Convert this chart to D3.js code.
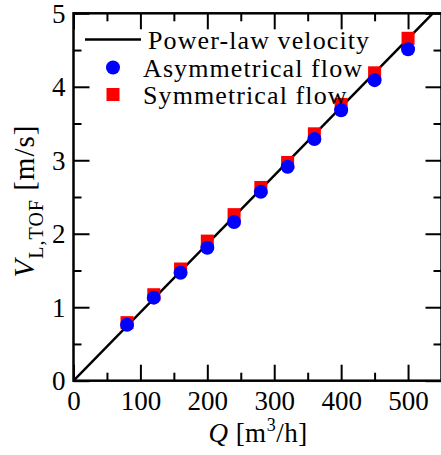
<!DOCTYPE html>
<html>
<head>
<meta charset="utf-8">
<script src="https://cdn.jsdelivr.net/npm/d3@7"></script>
<style>
  body { margin: 0; background: #fff; }
  text { font-family: "Liberation Serif", "Times New Roman", serif; fill: #000; }
</style>
</head>
<body>
<div id="chart"></div>
<script>
// data
const flowRates = [80, 120, 160, 200, 240, 280, 320, 360, 400, 450, 500];
const asymVelocity = [0.76, 1.13, 1.47, 1.81, 2.16, 2.57, 2.91, 3.29, 3.68, 4.09, 4.51];
const symVelocity = [0.79, 1.17, 1.52, 1.90, 2.26, 2.63, 2.97, 3.36, 3.76, 4.19, 4.66];
const lineQ = [0, 550];
const lineV = [0, 5.12];
const xTicks = [0, 100, 200, 300, 400, 500];
const yTicks = [0, 1, 2, 3, 4, 5];
const legendLabels = ["Power-law velocity", "Asymmetrical flow", "Symmetrical flow"];

const W = 441, H = 455;
const margin = {top: 13.3, right: -0.5, bottom: 74.3, left: 73.5};
const width = W - margin.left - margin.right,
    height = H - margin.top - margin.bottom;

const svg = d3.select("#chart")
  .append("svg")
    .attr("width", W)
    .attr("height", H);

const g = svg.append("g")
    .attr("transform", `translate(${margin.left},${margin.top})`);

const x = d3.scaleLinear().domain([0, 550]).range([0, width]);
const y = d3.scaleLinear().domain([0, 5]).range([height, 0]);

const minorX = d3.range(50, 550, 100);
const minorY = d3.range(0.5, 5, 1);

// ticks pointing inwards on all four sides
function styleAxis(sel) {
  sel.select(".domain").remove();
  sel.selectAll("line").attr("stroke", "#000").attr("stroke-width", 2);
  sel.selectAll("text")
    .style("font-family", "Liberation Serif, serif")
    .style("font-size", "27px");
}

g.append("g").attr("transform", `translate(0,${height})`)
  .call(d3.axisBottom(x).tickValues(xTicks).tickSize(-16).tickPadding(8).tickFormat(d3.format("d")))
  .call(styleAxis)
  .selectAll("text").attr("dy", "0.78em");
g.append("g").attr("transform", `translate(0,${height})`)
  .call(d3.axisBottom(x).tickValues(minorX).tickSize(-8).tickFormat(""))
  .call(styleAxis);
g.append("g")
  .call(d3.axisTop(x).tickValues(xTicks).tickSize(-16).tickFormat(""))
  .call(styleAxis);
g.append("g")
  .call(d3.axisTop(x).tickValues(minorX).tickSize(-8).tickFormat(""))
  .call(styleAxis);

g.append("g")
  .call(d3.axisLeft(y).tickValues(yTicks).tickSize(-16).tickPadding(8).tickFormat(d3.format("d")))
  .call(styleAxis)
  .selectAll("text").attr("dy", "0.34em");
g.append("g")
  .call(d3.axisLeft(y).tickValues(minorY).tickSize(-8).tickFormat(""))
  .call(styleAxis);
g.append("g").attr("transform", `translate(${width},0)`)
  .call(d3.axisRight(y).tickValues(yTicks).tickSize(-16).tickFormat(""))
  .call(styleAxis);
g.append("g").attr("transform", `translate(${width},0)`)
  .call(d3.axisRight(y).tickValues(minorY).tickSize(-8).tickFormat(""))
  .call(styleAxis);

// frame
g.append("rect")
  .attr("width", width)
  .attr("height", height)
  .attr("fill", "none")
  .attr("stroke", "#000")
  .attr("stroke-width", 2.5);

// power-law line
g.append("clipPath").attr("id", "plotclip")
  .append("rect").attr("width", width).attr("height", height);

g.append("path")
  .datum(d3.zip(lineQ, lineV))
  .attr("clip-path", "url(#plotclip)")
  .attr("fill", "none")
  .attr("stroke", "#000")
  .attr("stroke-width", 2.5)
  .attr("d", d3.line().x(d => x(d[0])).y(d => y(d[1])));

const sq = 13;
g.append("g")
  .selectAll("rect")
  .data(d3.zip(flowRates, symVelocity))
  .join("rect")
    .attr("x", d => x(d[0]) - sq / 2)
    .attr("y", d => y(d[1]) - sq / 2)
    .attr("width", sq)
    .attr("height", sq)
    .attr("fill", "#ff0000");

g.append("g")
  .selectAll("circle")
  .data(d3.zip(flowRates, asymVelocity))
  .join("circle")
    .attr("cx", d => x(d[0]))
    .attr("cy", d => y(d[1]))
    .attr("r", 7)
    .attr("fill", "#0000ff");

// legend
const legend = svg.append("g");
const rowY = [39.5, 67.5, 94.5];
legend.append("line")
  .attr("x1", 85).attr("x2", 141)
  .attr("y1", rowY[0]).attr("y2", rowY[0])
  .attr("stroke", "#000").attr("stroke-width", 2.5);
legend.append("circle")
  .attr("cx", 113).attr("cy", rowY[1]).attr("r", 7).attr("fill", "#0000ff");
legend.append("rect")
  .attr("x", 113 - sq / 2).attr("y", rowY[2] - sq / 2)
  .attr("width", sq).attr("height", sq).attr("fill", "#ff0000");
legend.selectAll("text.leg")
  .data(legendLabels)
  .join("text")
    .attr("class", "leg")
    .attr("x", (d, i) => i === 0 ? 148 : 143)
    .attr("y", (d, i) => rowY[i] + 9.5)
    .style("font-size", "26px")
    .style("letter-spacing", "1.1px")
    .text(d => d);

// axis titles
const xt = svg.append("text")
  .attr("x", 258)
  .attr("y", 442)
  .attr("text-anchor", "middle")
  .style("font-size", "27px")
  .style("letter-spacing", "0.5px");
xt.append("tspan").style("font-style", "italic").text("Q");
xt.append("tspan").text(" [m");
xt.append("tspan").attr("dy", -11).style("font-size", "18px").text("3");
xt.append("tspan").attr("dy", 11).text("/h]");

const yt = svg.append("text")
  .attr("transform", `translate(34,${margin.top + height / 2 + 4}) rotate(-90)`)
  .attr("text-anchor", "middle")
  .style("font-size", "29px")
  .style("letter-spacing", "1px");
yt.append("tspan").style("font-style", "italic").text("V");
yt.append("tspan").attr("dy", 9).style("font-size", "20px").text("L,TOF");
yt.append("tspan").attr("dy", -9).text(" [m/s]");
</script>
</body>
</html>
